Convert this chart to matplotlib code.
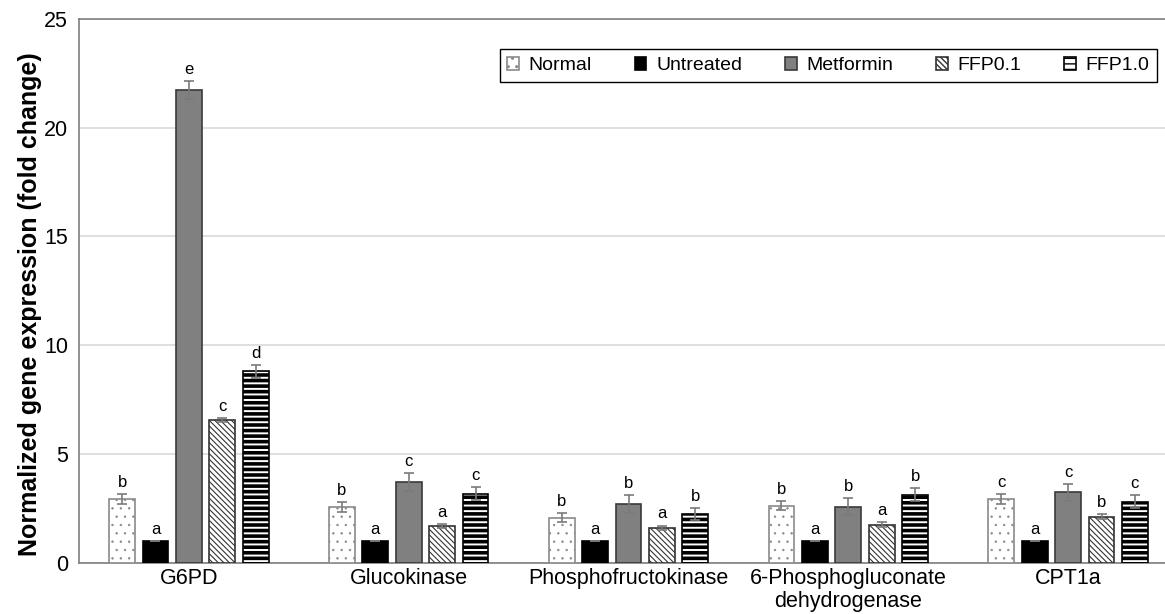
import numpy as np
import matplotlib
matplotlib.use("Agg")
import matplotlib.pyplot as plt

plt.rcParams["font.family"] = ["Liberation Sans", "DejaVu Sans"]

genes = ["G6PD", "Glucokinase", "Phosphofructokinase",
         "6-Phosphogluconate\ndehydrogenase", "CPT1a"]
groups = ["Normal", "Untreated", "Metformin", "FFP0.1", "FFP1.0"]

normal = [2.92, 2.55, 2.07, 2.63, 2.92]
untreated = [1.0, 1.0, 1.0, 1.0, 1.0]
metformin = [21.73, 3.70, 2.69, 2.58, 3.23]
ffp01 = [6.56, 1.69, 1.61, 1.75, 2.12]
ffp10 = [8.80, 3.17, 2.23, 3.13, 2.81]

normal_err = [0.23, 0.23, 0.22, 0.20, 0.23]
untreated_err = [0.0, 0.0, 0.0, 0.0, 0.0]
metformin_err = [0.42, 0.42, 0.42, 0.40, 0.40]
ffp01_err = [0.09, 0.09, 0.10, 0.11, 0.11]
ffp10_err = [0.30, 0.29, 0.28, 0.30, 0.31]

normal_sig = ["b", "b", "b", "b", "c"]
untreated_sig = ["a", "a", "a", "a", "a"]
metformin_sig = ["e", "c", "b", "b", "c"]
ffp01_sig = ["c", "a", "a", "a", "b"]
ffp10_sig = ["d", "c", "b", "b", "c"]

values = [normal, untreated, metformin, ffp01, ffp10]
errors = [normal_err, untreated_err, metformin_err, ffp01_err, ffp10_err]
letters = [normal_sig, untreated_sig, metformin_sig, ffp01_sig, ffp10_sig]

# look of each series: face, edge, hatch, hatch linewidth
styles = [
    dict(color="white", edgecolor="#8a8a8a", hatch="..", hlw=0.5),
    dict(color="black", edgecolor="black", hatch=None, hlw=1.0),
    dict(color="#808080", edgecolor="#3a3a3a", hatch=None, hlw=1.0),
    dict(color="white", edgecolor="#333333", hatch="\\" * 6, hlw=0.8),
    dict(color="white", edgecolor="black", hatch="---", hlw=2.6),
]

W, H = 1165, 614
fig = plt.figure(figsize=(W / 100, H / 100), dpi=100)
ax = fig.add_axes([79 / W, 51.3 / H, 1099 / W, 543.7 / H])

x = np.arange(len(genes))
step = 0.152
width = 0.118

for i, (vals, errs, sig, st) in enumerate(zip(values, errors, letters, styles)):
    pos = x + (i - 2) * step
    bars = ax.bar(pos, vals, width, color=st["color"], edgecolor=st["edgecolor"],
                  hatch=st["hatch"], linewidth=1.2, label=groups[i], zorder=3)
    if hasattr(bars[0], "set_hatch_linewidth"):
        for b in bars:
            b.set_hatch_linewidth(st["hlw"])
    ax.errorbar(pos, vals, yerr=errs, fmt="none", ecolor="#7a7a7a",
                elinewidth=1.2, capsize=3.5, capthick=1.2, zorder=4)
    for p, v, e, s in zip(pos, vals, errs, sig):
        ax.annotate(s, (p, v + e), xytext=(0, 3), textcoords="offset points",
                    ha="center", va="bottom", fontsize=12, color="black")

ax.set_xlim(-0.5, 4.5)
ax.set_ylim(0, 25)
ax.set_yticks([0, 5, 10, 15, 20, 25])
ax.set_xticks(x)
ax.set_xticklabels(genes, fontsize=15.5, linespacing=1.1)
ax.tick_params(axis="both", length=0, labelsize=15.5, colors="black")
ax.tick_params(axis="y", pad=8)
ax.tick_params(axis="x", pad=4)
ax.yaxis.grid(True, color="#d9d9d9", linewidth=1.2, zorder=0)
ax.set_axisbelow(True)
for side in ["left", "bottom", "top"]:
    ax.spines[side].set_color("#7f7f7f")
    ax.spines[side].set_linewidth(1.2)
ax.spines["right"].set_visible(False)

ax.set_ylabel("Normalized gene expression (fold change)", fontsize=18,
              fontweight="bold")
ax.yaxis.set_label_coords(-0.0335, 0.476)

leg = ax.legend(ncol=5, loc="upper right", bbox_to_anchor=(0.981, 0.944),
                fontsize=14, frameon=True, fancybox=False, edgecolor="black",
                handlelength=0.6, handleheight=0.6, handletextpad=0.5,
                columnspacing=2.2, borderpad=0.4, borderaxespad=0)
leg.get_frame().set_linewidth(1.0)
leg.get_frame().set_alpha(1)

fig.savefig("out.png", dpi=100)
